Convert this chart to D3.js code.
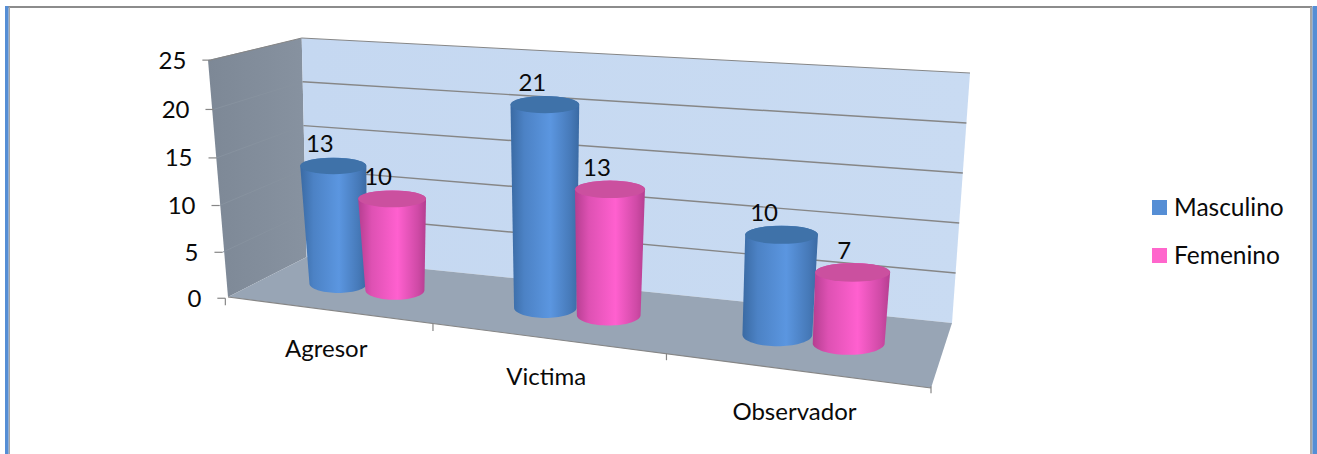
<!DOCTYPE html>
<html><head><meta charset="utf-8">
<script src="https://cdn.jsdelivr.net/npm/d3@7/dist/d3.min.js"></script>
<style>html,body{margin:0;padding:0;background:#fff}svg{display:block}text{font-family:Lato,"Open Sans",sans-serif;fill:#0a0a0a}</style>
</head><body><svg id="c" width="1317" height="454"></svg>
<script>
const categories = ["Agresor","Victima","Observador"];
const seriesNames = ["Masculino","Femenino"];
const masculino = [13,21,10];
const femenino = [10,13,7];
const valueMax = 25;
const tickCount = 5;

// layout: label nudges (dx, dy) relative to the projected cylinder top
const labelDx = [[-13.5,-14],[-12.5,-13],[-17.5,-8.5]];
const labelDy = -22;
const catLabelDy = [38,38,42];
const baseRatio = [0.87,0.91,0.96];
const widthAdjust = [1.065,0.975,0.935];
const colors = {
  Masculino:{edge:"#3a6aa3",mid:"#5b96e0",top:"#3f72a9",legend:"#558ed5"},
  Femenino:{edge:"#b53e90",mid:"#ff60cf",top:"#cb509f",legend:"#ff66cc"}
};

// the box corners on the page
const box = {
  frontBottomLeft:[228,297], frontTopLeft:[208,60],
  backBottomLeft:[306.7,257], backTopLeft:[301.7,38],
  backBottomRight:[952,323], backTopRight:[970,73],
  frontBottomRight:[931,388]
};
// calibration of the 3D box: u (0..3 along the axis), v (0 front..1 back), w (0..1 height) -> pixel
const calib = [
 [0,0,0,...box.frontBottomLeft],[0,0,1,...box.frontTopLeft],[0,1,0,...box.backBottomLeft],[0,1,1,...box.backTopLeft],
 [3,1,0,...box.backBottomRight],[3,1,1,...box.backTopRight],[3,0,0,...box.frontBottomRight],[1,0,0,433,323.5],[2,0,0,666,353.7]
];
function solveProjection(pts){
  const A=[],b=[];
  pts.forEach(([u,v,w,x,y])=>{
    A.push([u,v,w,1,0,0,0,0,-x*u,-x*v,-x*w]);b.push(x);
    A.push([0,0,0,0,u,v,w,1,-y*u,-y*v,-y*w]);b.push(y);
  });
  const n=11,M=d3.range(n).map(i=>d3.range(n+1).map(j=>{
    let s=0;A.forEach((r,k)=>{s+=r[i]*(j<n?r[j]:b[k]);});return s;}));
  for(let i=0;i<n;i++){
    let p=i;for(let k=i+1;k<n;k++)if(Math.abs(M[k][i])>Math.abs(M[p][i]))p=k;
    [M[i],M[p]]=[M[p],M[i]];
    for(let k=0;k<n;k++){if(k===i)continue;const f=M[k][i]/M[i][i];
      for(let j=i;j<=n;j++)M[k][j]-=f*M[i][j];}
  }
  return M.map((r,i)=>r[n]/r[i]);
}
const P=solveProjection(calib);
const project=(u,v,w)=>{
  const d=P[8]*u+P[9]*v+P[10]*w+1;
  return [(P[0]*u+P[1]*v+P[2]*w+P[3])/d,(P[4]*u+P[5]*v+P[6]*w+P[7])/d];
};
const lerp=(a,b,t)=>[a[0]+(b[0]-a[0])*t,a[1]+(b[1]-a[1])*t];

const uScale=d3.scaleBand().domain(categories).range([0,3]);
const wScale=d3.scaleLinear().domain([0,valueMax]).range([0,1]);
const serieU=d3.scaleBand().domain(seriesNames).range([0.215,0.785]);
const radiusU=0.155, depthV=0.5, ellipseRatio=0.25;

const svg=d3.select("#c"), defs=svg.append("defs");
const line=d3.line();
const poly=pts=>line(pts)+"Z";

// page frame
svg.append("rect").attr("x",5).attr("y",6).attr("width",1307).attr("height",2).attr("fill","#8c8c8c");
svg.append("rect").attr("x",8.5).attr("y",7).attr("width",1.5).attr("height",447).attr("fill","#a6a6a6");
svg.append("rect").attr("x",1310).attr("y",7).attr("width",2.5).attr("height",447).attr("fill","#a6a6a6");
svg.append("rect").attr("x",5).attr("y",6).attr("width",3.5).attr("height",448).attr("fill","#558ed5");
svg.append("rect").attr("x",1312.5).attr("y",6).attr("width",4.5).attr("height",448).attr("fill","#558ed5");

// gradients
const g1=defs.append("linearGradient").attr("id","wall").attr("x1",0).attr("x2",1).attr("y1",0).attr("y2",0);
g1.append("stop").attr("offset",0).attr("stop-color","#7d8896");
g1.append("stop").attr("offset",1).attr("stop-color","#8792a0");
const g2=defs.append("linearGradient").attr("id","back").attr("x1",0).attr("x2",1).attr("y1",0).attr("y2",0);
g2.append("stop").attr("offset",0).attr("stop-color","#c5d8f1");
g2.append("stop").attr("offset",1).attr("stop-color","#c9dbf2");
seriesNames.forEach(s=>{
  const g=defs.append("linearGradient").attr("id","cyl"+s).attr("x1",0).attr("x2",1).attr("y1",0).attr("y2",0);
  const mix=t=>d3.interpolateRgb(colors[s].edge,colors[s].mid)(t);
  [[0,mix(0)],[0.2,mix(0.55)],[0.58,mix(1)],[0.88,mix(0.35)],[1,mix(0)]]
    .forEach(([o,c])=>g.append("stop").attr("offset",o).attr("stop-color",c));
});

// walls and floor
svg.append("path").attr("d",poly([box.frontBottomLeft,box.backBottomLeft,box.backTopLeft,box.frontTopLeft])).attr("fill","url(#wall)");
svg.append("path").attr("d",poly([box.backBottomLeft,box.backBottomRight,box.backTopRight,box.backTopLeft])).attr("fill","url(#back)");
svg.append("path").attr("d",poly([box.frontBottomLeft,box.frontBottomRight,box.backBottomRight,box.backBottomLeft])).attr("fill","#98a5b5");

// gridlines and value ticks
const valueTicks=wScale.ticks(tickCount);
const tg=svg.append("g");
valueTicks.forEach(t=>{
  const w=wScale(t);
  const bl=lerp(box.backBottomLeft,box.backTopLeft,w), br=lerp(box.backBottomRight,box.backTopRight,w), f=project(0,0,w);
  if(t>0)tg.append("path").attr("d",line([bl,br])).attr("stroke","#868686").attr("stroke-width",t===valueMax?1:1.4).attr("fill","none");
  if(t>0)tg.append("path").attr("d",line([f,bl])).attr("stroke",t===valueMax?"#868686":"#87929f").attr("stroke-width",1).attr("fill","none");
  tg.append("path").attr("d",line([[f[0]-8,f[1]],f])).attr("stroke","#868686").attr("stroke-width",1.2).attr("fill","none");
  tg.append("text").attr("x",f[0]-24).attr("y",f[1]).attr("dy","0.35em").attr("text-anchor","end").attr("font-size",24).text(t);
});
// floor front edge and category ticks
tg.append("path").attr("d",line([box.frontBottomLeft,box.frontBottomRight])).attr("stroke","#868686").attr("stroke-width",1.2).attr("fill","none");
d3.range(categories.length+1).forEach(i=>{
  const f=project(i,0,0);
  tg.append("path").attr("d",line([f,[f[0],f[1]+7]])).attr("stroke","#868686").attr("stroke-width",1.2).attr("fill","none");
});
categories.forEach((c,i)=>{
  const f=project(uScale(c)+uScale.bandwidth()/2,0,0);
  tg.append("text").attr("x",f[0]).attr("y",f[1]+catLabelDy[i]).attr("dy","0.35em").attr("text-anchor","middle").attr("font-size",24).text(c);
});

// cylinders: level ellipses centred on the projected axis
const seriesValues={Masculino:masculino,Femenino:femenino};
const labels=[];
const arcPts=(c,rx,ry,a0,a1)=>d3.range(0,37).map(k=>{const a=a0+(a1-a0)*k/36;return [c[0]+rx*Math.cos(a),c[1]+ry*Math.sin(a)];});
categories.forEach((c,i)=>{
  seriesNames.forEach((s,j)=>{
    const uc=uScale(c)+serieU(s)+serieU.bandwidth()/2, val=seriesValues[s][i], w=wScale(val);
    const t=project(uc,depthV,w), b=project(uc,depthV,0);
    const rxT=(project(uc+radiusU,depthV,w)[0]-project(uc-radiusU,depthV,w)[0])/2*widthAdjust[i];
    const rxB=rxT*baseRatio[i], ryT=rxT*ellipseRatio, ryB=rxB*ellipseRatio*1.3;
    const body=arcPts(t,rxT,ryT,Math.PI,2*Math.PI).concat(arcPts(b,rxB,ryB,0,Math.PI));
    svg.append("path").attr("d",poly(body)).attr("fill",`url(#cyl${s})`);
    svg.append("ellipse").attr("cx",t[0]).attr("cy",t[1]).attr("rx",rxT).attr("ry",ryT).attr("fill",colors[s].top);
    labels.push({x:t[0]+labelDx[i][j],y:t[1]+labelDy,val});
  });
});
svg.append("g").selectAll("text").data(labels).join("text")
  .attr("x",d=>d.x).attr("y",d=>d.y).attr("dy","0.35em").attr("text-anchor","middle").attr("font-size",24).text(d=>d.val);

// legend
const legendY=d3.scalePoint().domain(seriesNames).range([207.5,255.5]);
seriesNames.forEach(s=>{
  svg.append("rect").attr("x",1152).attr("y",legendY(s)-7.5).attr("width",15).attr("height",15).attr("fill",colors[s].legend);
  svg.append("text").attr("x",1174).attr("y",legendY(s)).attr("dy","0.35em").attr("font-size",24.5).text(s);
});
</script></body></html>
